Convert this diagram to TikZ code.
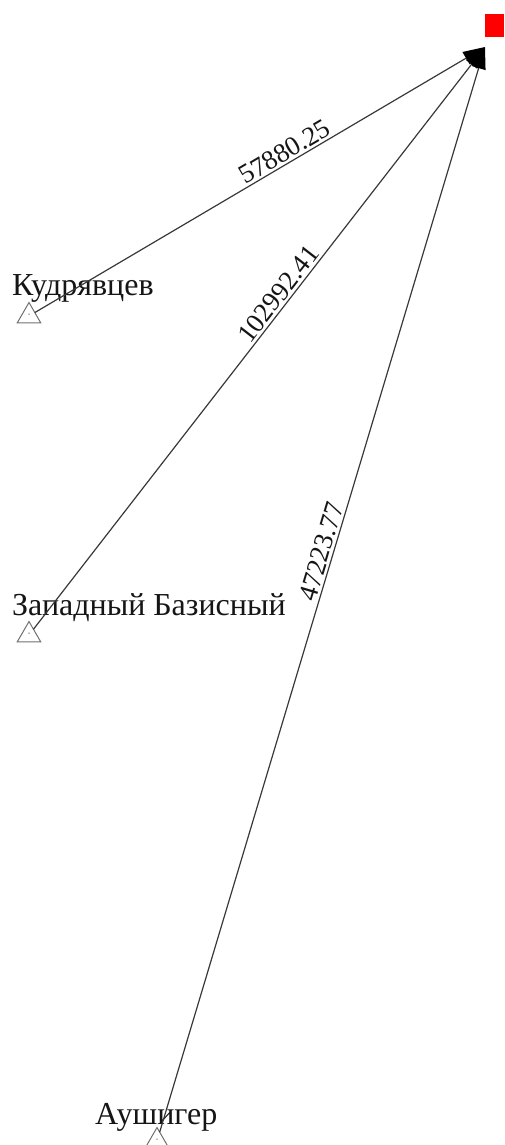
\documentclass[tikz,border=0pt]{standalone}
\usepackage{fontspec}
\setmainfont{Liberation Serif}
\usetikzlibrary{arrows.meta,shapes.geometric}
\definecolor{linec}{HTML}{383838}
\definecolor{tric}{HTML}{707070}
\definecolor{textc}{HTML}{151515}
\tikzset{
  station/.style={regular polygon,regular polygon sides=3,draw=tric,line width=1pt,minimum size=27pt,inner sep=0pt,outer sep=0pt},
  centredot/.style={circle,fill=tric,inner sep=0pt,minimum size=1.5pt},
  stationname/.style={anchor=base west,inner sep=0pt,text=textc,font=\fontsize{32}{36}\selectfont},
  ray/.style={draw=linec,line width=1.2pt,-{Triangle[length=22pt,width=14pt,color=black]}},
  raylabel/.style={sloped,above,inner sep=0pt,text=textc,font=\fontsize{27}{31}\selectfont},
  redsq/.style={fill=red,inner sep=0pt,minimum width=19pt,minimum height=23pt}
}
\begin{document}
\begin{tikzpicture}[x=1pt,y=-1pt]
\useasboundingbox (0,0) rectangle (504,1145);
\node[redsq] (sq) at (494.5,25.5) {};
\coordinate (hub) at (485,47);
\node[station] (k) at (29,316) {};
\node[centredot] (kd) at (29,314) {};
\node[station] (z) at (29,635) {};
\node[centredot] (zd) at (29,633) {};
\node[station] (a) at (157,1141) {};
\node[centredot] (ad) at (157,1139) {};
\node[stationname] (kl) at (12,295) {Кудрявцев};
\node[stationname] (zl) at (12,615) {Западный Базисный};
\node[stationname] (al) at (95,1124) {Аушигер};
\draw[ray] (k) -- node[raylabel,pos=0.568,yshift=2pt] {57880.25} (hub);
\draw[ray] (z) -- node[raylabel,pos=0.563,yshift=2pt] {102992.41} (hub);
\draw[ray] (a) -- node[raylabel,pos=0.532,yshift=2pt] {47223.77} (hub);
\end{tikzpicture}
\end{document}
